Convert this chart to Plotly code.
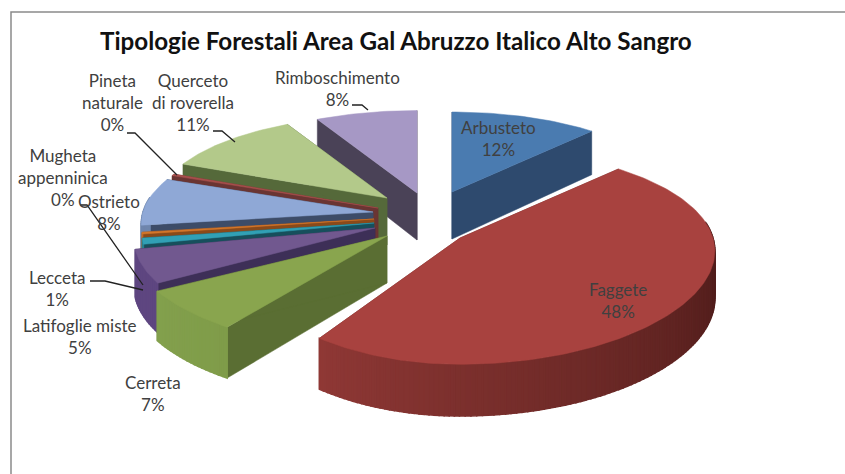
import math
import plotly.graph_objects as go

# ---- data ----
categories = ["Arbusteto", "Faggete", "Cerreta", "Latifoglie miste", "Lecceta",
              "Mugheta appenninica", "Ostrieto", "Pineta naturale",
              "Querceto di roverella", "Rimboschimento"]
values = [12, 48, 6.6, 5.4, 1, 0.3, 8, 0.3, 11, 8]
title_text = "Tipologie Forestali Area Gal Abruzzo Italico Alto Sangro"

# ---- styling / layout ----
W, H = 845, 474
top_cols = ["#4a7bb0", "#a8423f", "#89a54e", "#71588f", "#31a0b5",
            "#d4772b", "#8fa8d6", "#a8504d", "#b3c98a", "#a698c5"]
cut_cols = ["#2e4a6e", "#6a2a28", "#5a6e33", "#3d2f57", "#174f5c",
            "#8a4a1a", "#3d4c68", "#6a3533", "#55693a", "#4a4257"]
arc_cols = [("#2e4d75", "#2a4468"), ("#8f3835", "#300f0e"), ("#83a04d", "#7f9c49"),
            ("#5e4680", "#5e4680"), ("#25808f", "#25808f"), ("#c06a24", "#c06a24"),
            ("#6f86ad", "#6f86ad"), ("#8f3f3c", "#8f3f3c"), ("#6f8a4a", "#6f8a4a"),
            ("#6f6390", "#6f6390")]
# per-slice explosion (like a pie "pull"), in pixels from the chart centre
CX, CY = 415, 215
pull_x = [37, 45, -28, -40, -41, -41, -42, -37, -28, 2]
pull_y = [-23, 23, 21, 13, 8, 4, -3, -7, -17, -22]
radius_scale = [0.97, 1.1, 1, 1, 1, 1, 1, 1, 1, 1]
left_scale = [1, 0.88, 1.1, 1.04, 1, 1, 1, 1, 1, 1]
R_X, R_Y = 230, 96
P_X, P_Y = 0.12, 0.164
DEPTH = 47
draw_order = [9, 0, 8, 7, 6, 5, 4, 3, 2, 1]

total = sum(values)
spans = []
acc = 0.0
for v in values:
    spans.append((acc / total * 2 * math.pi, (acc + v) / total * 2 * math.pi))
    acc += v


def project(i, th, r=1.0, drop=0.0):
    """Slice-local polar point to canvas pixels, with a perspective shrink to the back."""
    ax, ay = CX + pull_x[i], CY + pull_y[i]
    rs = radius_scale[i] * r
    z = math.cos(th) * r
    sx = left_scale[i] if math.sin(th) < 0 else 1
    x = ax + R_X * rs * sx * math.sin(th) / (1 + P_X * z)
    y = ay - R_Y * rs * math.cos(th) / (1 + P_Y * z)
    return x, y + drop * (1 - 0.1 * z)


def mix(c1, c2, t):
    a = [int(c1[k:k + 2], 16) for k in (1, 3, 5)]
    b = [int(c2[k:k + 2], 16) for k in (1, 3, 5)]
    return "#%02x%02x%02x" % tuple(round(p + (q - p) * t) for p, q in zip(a, b))


def poly(fig, pts, col, name, width=0.5):
    xs = [p[0] for p in pts] + [pts[0][0]]
    ys = [p[1] for p in pts] + [pts[0][1]]
    fig.add_trace(go.Scatter(x=xs, y=ys, mode="lines", fill="toself", fillcolor=col,
                             line=dict(color=col, width=width), name=name,
                             hoverinfo="name", showlegend=False))


fig = go.Figure()
for i in draw_order:
    a0, a1 = spans[i]
    name = categories[i]
    n = max(2, int((a1 - a0) / 0.02))
    # the two cut faces go first, so the outer wall hides whichever one faces away
    for th in (a0, a1):
        poly(fig, [project(i, 0, 0), project(i, th), project(i, th, 1, DEPTH), project(i, 0, 0, DEPTH)], cut_cols[i], name)
    # outer wall, split into bands to carry the shading across the rim
    for k in range(n):
        t0 = a0 + (a1 - a0) * k / n
        t1 = a0 + (a1 - a0) * (k + 1) / n
        if math.cos((t0 + t1) / 2) > 0.15:
            continue
        col = mix(arc_cols[i][1], arc_cols[i][0], (k + .5) / n)
        poly(fig, [project(i, t0), project(i, t1), project(i, t1, 1, DEPTH), project(i, t0, 1, DEPTH)], col, name, 1.5)
    # top face
    pts = [project(i, 0, 0)] + [project(i, a0 + (a1 - a0) * k / n) for k in range(n + 1)]
    poly(fig, pts, top_cols[i], name)

# ---- text ----
label_pos = {
    "Arbusteto": (498, 138, "Arbusteto"),
    "Faggete": (618, 300, "Faggete"),
    "Cerreta": (153, 393, "Cerreta"),
    "Latifoglie miste": (80, 336, "Latifoglie miste"),
    "Lecceta": (57, 288, "Lecceta"),
    "Mugheta appenninica": (63, 177, "Mugheta<br>appenninica"),
    "Ostrieto": (109, 212, "Ostrieto"),
    "Pineta naturale": (112, 102, "Pineta<br>naturale"),
    "Querceto di roverella": (193, 102, "Querceto<br>di roverella"),
    "Rimboschimento": (337, 88, "Rimboschimento"),
}
anns = []
for c, v in zip(categories, values):
    x, y, txt = label_pos[c]
    anns.append(dict(x=x, y=y, xref="x", yref="y", showarrow=False,
                     text=f"{txt}<br>{round(v)}%", align="center",
                     font=dict(family="Lato", size=17, color="#404040")))
anns.append(dict(x=396, y=40, xref="x", yref="y", showarrow=False, text=f"<b>{title_text}</b>",
                 font=dict(family="Lato", size=24.2, color="#111111")))

leaders = [
    [(127, 133), (135, 133), (177, 175)],
    [(80, 205), (87, 205), (143, 285)],
    [(90, 281), (105, 281), (143, 290)],
    [(213, 131), (222, 131), (235, 142)],
    [(352, 105), (362, 105), (368, 110)],
]
shapes = []
for pts in leaders:
    path = "M" + " L".join(f"{a},{b}" for a, b in pts)
    shapes.append(dict(type="path", path=path, xref="x", yref="y", line=dict(color="#222222", width=1.3)))
shapes.append(dict(type="path", path=f"M11,{H} L11,12 L{W},12", xref="x", yref="y",
                   line=dict(color="#8a8a8a", width=1.5)))

fig.update_layout(
    width=W, height=H, margin=dict(l=0, r=0, t=0, b=0),
    paper_bgcolor="white", plot_bgcolor="white", showlegend=False,
    xaxis=dict(range=[0, W], visible=False, fixedrange=True),
    yaxis=dict(range=[H, 0], visible=False, fixedrange=True),
    annotations=anns, shapes=shapes,
)
fig.write_html("out.html", config={"displayModeBar": False},
               post_script="document.body.style.margin='0';document.documentElement.style.overflow='hidden';")
